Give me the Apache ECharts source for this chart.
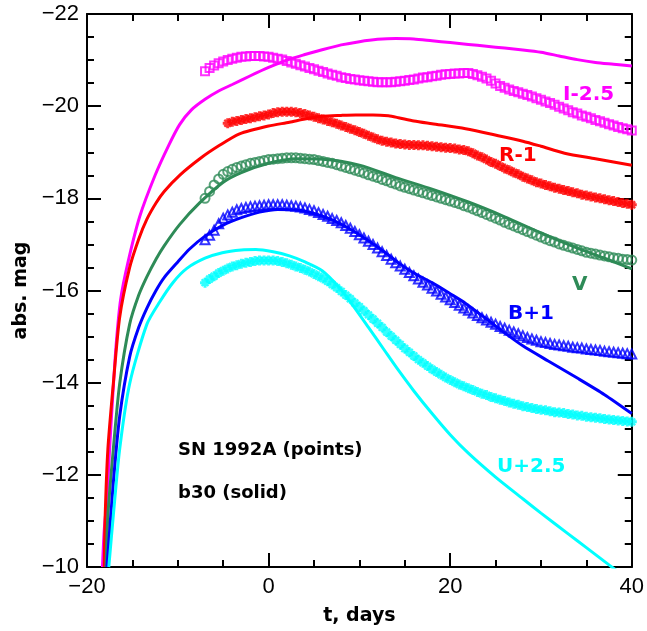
<!DOCTYPE html>
<html>
<head>
<meta charset="utf-8">
<script src="https://cdn.jsdelivr.net/npm/echarts@6/dist/echarts.min.js"></script>
<style>html,body{margin:0;padding:0;background:#fff}#c{width:647px;height:631px}</style>
</head>
<body>
<div id="c"></div>
<script>
// Days of observed points (SN 1992A)
var tPts = [-7,-6.5,-6,-5.5,-5,-4.5,-4,-3.5,-3,-2.5,
  -2,-1.5,-1,-0.5,0,0.5,1,1.5,2,2.5,
  3,3.5,4,4.5,5,5.5,6,6.5,7,7.5,
  8,8.5,9,9.5,10,10.5,11,11.5,12,12.5,
  13,13.5,14,14.5,15,15.5,16,16.5,17,17.5,
  18,18.5,19,19.5,20,20.5,21,21.5,22,22.5,
  23,23.5,24,24.5,25,25.5,26,26.5,27,27.5,
  28,28.5,29,29.5,30,30.5,31,31.5,32,32.5,
  33,33.5,34,34.5,35,35.5,36,36.5,37,37.5,
  38,38.5,39,39.5,40];

var ptsI = [-20.76,-20.83,-20.88,-20.93,-20.97,-21.00,-21.03,-21.05,-21.07,-21.08,
  -21.09,-21.09,-21.09,-21.08,-21.07,-21.05,-21.03,-21.01,-20.98,-20.95,
  -20.92,-20.89,-20.86,-20.83,-20.80,-20.77,-20.74,-20.71,-20.68,-20.66,
  -20.63,-20.61,-20.59,-20.58,-20.56,-20.55,-20.54,-20.53,-20.52,-20.52,
  -20.52,-20.52,-20.53,-20.54,-20.55,-20.57,-20.58,-20.60,-20.62,-20.63,
  -20.65,-20.66,-20.68,-20.69,-20.70,-20.71,-20.71,-20.72,-20.72,-20.70,
  -20.67,-20.64,-20.60,-20.55,-20.49,-20.44,-20.40,-20.36,-20.33,-20.30,
  -20.27,-20.24,-20.21,-20.17,-20.14,-20.10,-20.07,-20.03,-19.99,-19.95,
  -19.91,-19.87,-19.84,-19.80,-19.77,-19.74,-19.70,-19.67,-19.64,-19.61,
  -19.58,-19.55,-19.52,-19.50,-19.47];

// R points start at day -4.5
var ptsR = [-19.63,-19.66,-19.68,-19.70,-19.72,-19.74,-19.76,-19.78,-19.80,-19.82,
  -19.85,-19.87,-19.88,-19.88,-19.88,-19.87,-19.85,-19.83,-19.80,-19.77,
  -19.74,-19.71,-19.68,-19.65,-19.62,-19.58,-19.55,-19.51,-19.48,-19.44,
  -19.40,-19.36,-19.32,-19.28,-19.25,-19.23,-19.21,-19.19,-19.18,-19.17,
  -19.16,-19.16,-19.15,-19.15,-19.14,-19.13,-19.12,-19.11,-19.10,-19.09,
  -19.08,-19.06,-19.05,-19.02,-18.98,-18.93,-18.89,-18.84,-18.79,-18.75,
  -18.70,-18.65,-18.61,-18.56,-18.52,-18.47,-18.43,-18.39,-18.35,-18.32,
  -18.29,-18.26,-18.23,-18.21,-18.18,-18.16,-18.13,-18.11,-18.08,-18.06,
  -18.04,-18.02,-18.00,-17.98,-17.96,-17.94,-17.92,-17.90,-17.88,-17.86];

var ptsV = [-18.00,-18.15,-18.29,-18.42,-18.52,-18.58,-18.63,-18.67,-18.70,-18.73,
  -18.76,-18.78,-18.80,-18.82,-18.84,-18.85,-18.86,-18.87,-18.88,-18.88,
  -18.88,-18.87,-18.86,-18.85,-18.84,-18.82,-18.80,-18.78,-18.76,-18.73,
  -18.70,-18.67,-18.64,-18.61,-18.58,-18.55,-18.51,-18.48,-18.45,-18.41,
  -18.38,-18.34,-18.31,-18.27,-18.24,-18.21,-18.18,-18.15,-18.12,-18.09,
  -18.06,-18.03,-18.00,-17.97,-17.94,-17.91,-17.88,-17.84,-17.81,-17.77,
  -17.73,-17.69,-17.65,-17.61,-17.57,-17.53,-17.48,-17.44,-17.40,-17.36,
  -17.32,-17.28,-17.24,-17.20,-17.16,-17.12,-17.08,-17.05,-17.01,-16.98,
  -16.95,-16.92,-16.89,-16.86,-16.83,-16.81,-16.79,-16.77,-16.75,-16.73,
  -16.71,-16.70,-16.68,-16.67,-16.66];

var ptsB = [-17.10,-17.20,-17.31,-17.45,-17.57,-17.64,-17.70,-17.75,-17.78,-17.80,
  -17.82,-17.83,-17.84,-17.85,-17.86,-17.86,-17.86,-17.86,-17.85,-17.84,
  -17.83,-17.81,-17.79,-17.76,-17.73,-17.69,-17.65,-17.61,-17.56,-17.52,
  -17.47,-17.41,-17.35,-17.28,-17.21,-17.14,-17.07,-17.00,-16.92,-16.84,
  -16.76,-16.68,-16.60,-16.53,-16.46,-16.39,-16.32,-16.25,-16.18,-16.12,
  -16.05,-15.99,-15.92,-15.86,-15.80,-15.74,-15.68,-15.62,-15.57,-15.51,
  -15.46,-15.41,-15.36,-15.31,-15.27,-15.22,-15.18,-15.14,-15.10,-15.06,
  -15.02,-14.98,-14.95,-14.92,-14.89,-14.87,-14.85,-14.83,-14.82,-14.80,
  -14.79,-14.77,-14.76,-14.75,-14.73,-14.72,-14.71,-14.70,-14.68,-14.67,
  -14.66,-14.65,-14.64,-14.63,-14.62];

var ptsU = [-16.17,-16.25,-16.31,-16.38,-16.43,-16.48,-16.52,-16.55,-16.58,-16.60,
  -16.62,-16.64,-16.65,-16.65,-16.65,-16.65,-16.64,-16.62,-16.59,-16.56,
  -16.52,-16.49,-16.45,-16.41,-16.36,-16.31,-16.26,-16.20,-16.13,-16.06,
  -15.98,-15.90,-15.82,-15.73,-15.65,-15.56,-15.47,-15.38,-15.29,-15.20,
  -15.10,-15.01,-14.92,-14.83,-14.74,-14.66,-14.58,-14.50,-14.43,-14.36,
  -14.29,-14.23,-14.17,-14.11,-14.06,-14.01,-13.96,-13.92,-13.88,-13.84,
  -13.80,-13.76,-13.73,-13.69,-13.66,-13.63,-13.60,-13.57,-13.54,-13.52,
  -13.49,-13.47,-13.45,-13.43,-13.41,-13.40,-13.38,-13.36,-13.35,-13.34,
  -13.32,-13.31,-13.29,-13.28,-13.26,-13.25,-13.24,-13.23,-13.21,-13.20,
  -13.19,-13.18,-13.17,-13.16,-13.15];

// Model b30 (solid curves)
var modI_t   = [-18.3,-18.1,-17.8,-17.5,-17.2,-16.8,-16.3,-15.5,-14.2,-12.5,-11,-9.8,-8.5,-7,-5.5,-4,-2,0,2,4,6,8,10,12,14,16,18,20,22,24,26,28,30,32,34,36,38,40];
var modI_mag = [-10.0,-10.8,-11.5,-12.6,-13.6,-14.8,-15.8,-16.6,-17.6,-18.5,-19.15,-19.6,-19.92,-20.15,-20.33,-20.47,-20.66,-20.84,-21.0,-21.12,-21.23,-21.33,-21.4,-21.45,-21.47,-21.46,-21.42,-21.38,-21.34,-21.3,-21.26,-21.22,-21.17,-21.09,-21.01,-20.95,-20.91,-20.87];

var modR_t   = [-18.1,-18.0,-17.7,-17.1,-16.4,-15.3,-14.3,-13.4,-12.4,-11.5,-9.8,-7.5,-5.4,-3.2,0,2.3,4,5.9,8,9.6,11.5,13.2,14.3,16,18,21.7,25.3,28,30,32.6,36,40];
var modR_mag = [-10,-11.1,-12.56,-13.98,-15.42,-16.5,-17.12,-17.55,-17.9,-18.15,-18.5,-18.87,-19.15,-19.4,-19.57,-19.65,-19.72,-19.78,-19.8,-19.81,-19.81,-19.79,-19.75,-19.68,-19.62,-19.51,-19.36,-19.24,-19.13,-18.98,-18.86,-18.72];

var modV_t   = [-17.9,-17.7,-17.1,-16.4,-15.3,-14.3,-13.4,-12.4,-11.5,-9.8,-7.6,-5,-3,0,3,6,10,14,18,22,26,30,34,37,40];
var modV_mag = [-10,-11.12,-12.56,-13.98,-15.27,-15.9,-16.3,-16.68,-16.97,-17.43,-17.9,-18.35,-18.56,-18.76,-18.86,-18.85,-18.72,-18.45,-18.2,-17.92,-17.6,-17.25,-16.92,-16.7,-16.47];

var modB_t   = [-17.8,-17.1,-16.4,-15.3,-14.3,-13.4,-12.4,-11.5,-10,-8.7,-7,-5,-3,-1,1,3,5,7,9,11,13,14.3,16,18,20,21.7,24,26,28,30.8,34,37,40];
var modB_mag = [-10,-11.83,-13.27,-14.56,-15.2,-15.62,-16.0,-16.28,-16.62,-16.9,-17.18,-17.42,-17.58,-17.7,-17.76,-17.75,-17.67,-17.53,-17.33,-17.08,-16.8,-16.6,-16.38,-16.17,-15.93,-15.72,-15.38,-15.08,-14.8,-14.47,-14.1,-13.74,-13.33];

var modU_t   = [-17.6,-17.1,-16.4,-15.3,-13.4,-12,-10.5,-9,-7,-5.1,-3,-1.4,0.5,2.3,4,5.9,7.8,9.2,11,12.7,14.3,16,18,20,22,25,28,30,33,35,37.6,38.5];
var modU_mag = [-10,-11.12,-12.56,-13.98,-15.27,-15.75,-16.18,-16.48,-16.7,-16.82,-16.88,-16.89,-16.84,-16.75,-16.62,-16.43,-16.06,-15.7,-15.2,-14.72,-14.27,-13.82,-13.33,-12.87,-12.47,-11.95,-11.48,-11.17,-10.72,-10.42,-10.03,-9.9];

var xTicks = [-20, 0, 20, 40];
var yTicks = [-22, -20, -18, -16, -14, -12, -10];

var cI = '#ff00ff', cR = '#ff0000', cV = '#2e8b57', cB = '#0000ff', cU = '#00ffff';

function pairs(t, m) { return m.map(function (v, i) { return [t[i], v]; }); }
function minus(v) { return v < 0 ? '\u2212' + (-v) : String(v); }

var starPath = 'path://M-1.5,-5H1.5V-1.5H5V1.5H1.5V5H-1.5V1.5H-5V-1.5H-1.5Z M-4.2,-2.6L-2.6,-4.2L0,-1.6L2.6,-4.2L4.2,-2.6L1.6,0L4.2,2.6L2.6,4.2L0,1.6L-2.6,4.2L-4.2,2.6L-1.6,0Z';

var chart = echarts.init(document.getElementById('c'), null, {renderer: 'canvas'});

function xAx(pos, labels) {
  return {
    type: 'value', position: pos, min: xTicks[0], max: xTicks[xTicks.length - 1], interval: 20,
    axisLine: {show: true, onZero: false, lineStyle: {color: '#000', width: 2}},
    axisTick: {show: true, inside: true, length: 14, lineStyle: {color: '#000', width: 2}},
    minorTick: {show: true, splitNumber: 4, length: 7, lineStyle: {color: '#000', width: 2}},
    splitLine: {show: false},
    axisLabel: {show: labels, color: '#000', fontSize: 22, fontFamily: 'Liberation Sans', margin: 9, formatter: minus},
    name: labels ? 't, days' : '', nameLocation: 'middle', nameGap: 40,
    nameTextStyle: {color: '#000', fontSize: 19, fontWeight: 'bold', fontFamily: 'DejaVu Sans'}
  };
}
function yAx(pos, labels) {
  return {
    type: 'value', position: pos, inverse: true, min: yTicks[0], max: yTicks[yTicks.length - 1], interval: 2,
    axisLine: {show: true, onZero: false, lineStyle: {color: '#000', width: 2}},
    axisTick: {show: true, inside: true, length: 14, lineStyle: {color: '#000', width: 2}},
    minorTick: {show: true, splitNumber: 4, length: 7, lineStyle: {color: '#000', width: 2}},
    splitLine: {show: false},
    axisLabel: {show: labels, color: '#000', fontSize: 22, fontFamily: 'Liberation Sans', margin: 8, formatter: minus},
    name: labels ? 'abs. mag' : '', nameLocation: 'middle', nameGap: 56, nameRotate: 90,
    nameTextStyle: {color: '#000', fontSize: 19, fontWeight: 'bold', fontFamily: 'DejaVu Sans'}
  };
}

function solid(name, t, m, c) {
  return {name: name, type: 'line', data: pairs(t, m), showSymbol: false, smooth: 0.25,
    lineStyle: {color: c, width: 3}, clip: true, z: 2, silent: true};
}
function pts(name, t, m, c, sym, size, filled) {
  return {name: name, type: 'scatter', data: pairs(t, m), symbol: sym, symbolSize: size, clip: true, z: 3,
    itemStyle: filled ? {color: c} : {color: 'rgba(0,0,0,0)', borderColor: c, borderWidth: 2}, silent: true};
}

var txt = function (s, x, y, c, size) {
  return {type: 'text', x: x, y: y, z: 10, style: {text: s, fill: c, font: 'bold ' + (size || 20) + 'px "DejaVu Sans"', textAlign: 'left', textVerticalAlign: 'middle'}};
};

chart.setOption({
  animation: false,
  backgroundColor: '#fff',
  grid: {left: 87, right: 13, top: 14, bottom: 59},
  xAxis: [xAx('bottom', true), xAx('top', false)],
  yAxis: [yAx('left', true), yAx('right', false)],
  series: [
    solid('b30 I', modI_t, modI_mag, cI),
    solid('b30 R', modR_t, modR_mag, cR),
    solid('b30 V', modV_t, modV_mag, cV),
    solid('b30 B', modB_t, modB_mag, cB),
    solid('b30 U', modU_t, modU_mag, cU),
    pts('I-2.5', tPts, ptsI, cI, 'rect', 8, false),
    pts('R-1', tPts.slice(5), ptsR, cR, starPath, 10, true),
    pts('V', tPts, ptsV, cV, 'circle', 9, false),
    pts('B+1', tPts, ptsB, cB, 'triangle', 9, false),
    pts('U+2.5', tPts, ptsU, cU, starPath, 10, true)
  ],
  graphic: [
    txt('I-2.5', 563, 95, cI),
    txt('R-1', 499, 156, cR),
    txt('V', 572, 285, cV),
    txt('B+1', 508, 314, cB),
    txt('U+2.5', 497, 467, cU),
    txt('SN 1992A (points)', 178, 450, '#000', 18),
    txt('b30 (solid)', 178, 493, '#000', 18)
  ]
});
</script>
</body>
</html>
